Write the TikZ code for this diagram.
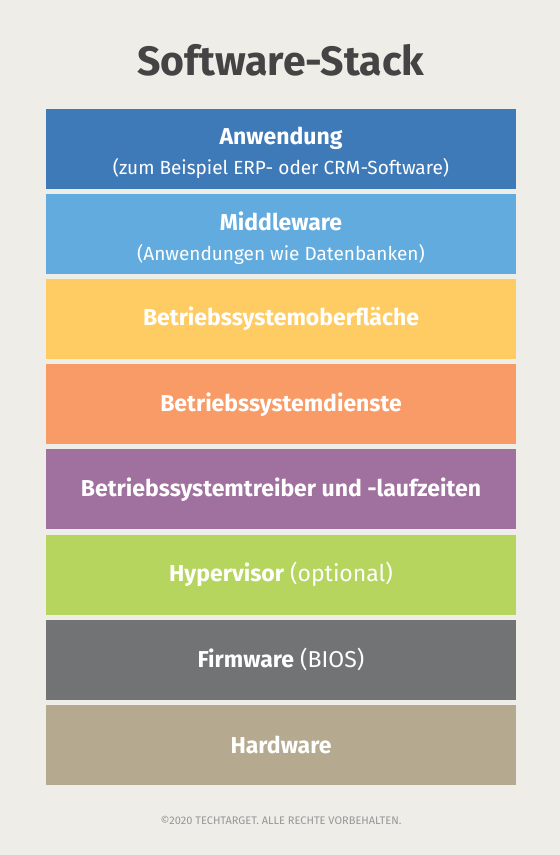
\documentclass[tikz,border=0pt]{standalone}
\usepackage{fontspec}
\setmainfont{Fira Sans}
\usepackage{xcolor}
\usepackage{tikz}
\usetikzlibrary{positioning}
\definecolor{bgcolor}{RGB}{238,237,232}
\definecolor{titlecolor}{RGB}{68,68,68}
\definecolor{notecolor}{RGB}{150,150,150}
\definecolor{appcolor}{RGB}{63,122,184}
\definecolor{midcolor}{RGB}{98,171,223}
\definecolor{uicolor}{RGB}{255,203,99}
\definecolor{svccolor}{RGB}{248,155,102}
\definecolor{drvcolor}{RGB}{160,112,159}
\definecolor{hypcolor}{RGB}{181,213,94}
\definecolor{fwcolor}{RGB}{114,115,117}
\definecolor{hwcolor}{RGB}{181,170,143}
\newcommand{\layerName}[1]{{\bfseries #1}}
\newcommand{\layerNote}[1]{{\fontsize{19}{30}\selectfont #1}}

\begin{document}
\begin{tikzpicture}[x=1pt, y=1pt,
			layer/.style={rectangle, minimum width=470pt, minimum height=80pt, inner sep=0pt, text=white, align=center, font=\fontsize{23}{30}\selectfont},
		]

		\fill[bgcolor] (0,0) rectangle (560,-855);

		\node[text=titlecolor, font=\fontsize{41}{44}\selectfont\bfseries] (title) at (281,-60) {Software-Stack};

		\node[layer, fill=appcolor] (app) at (281,-149) {\rule{0pt}{26pt}\layerName{Anwendung}\\\layerNote{(zum Beispiel ERP- oder CRM-Software)}};
		\node[layer, fill=midcolor] (mid)  [below=4.7pt of app]  {\rule{0pt}{26pt}\layerName{Middleware}\\\layerNote{(Anwendungen wie Datenbanken)}};
		\node[layer, fill=uicolor]  (ui)   [below=4.7pt of mid]  {\layerName{Betriebssystemoberfläche}};
		\node[layer, fill=svccolor] (svc)  [below=4.7pt of ui]   {\layerName{Betriebssystemdienste}};
		\node[layer, fill=drvcolor] (drv)  [below=4.7pt of svc]  {\layerName{Betriebssystemtreiber und -laufzeiten}};
		\node[layer, fill=hypcolor] (hyp)  [below=4.7pt of drv]  {\layerName{Hypervisor} (optional)};
		\node[layer, fill=fwcolor]  (fw)   [below=4.7pt of hyp]  {\layerName{Firmware} (BIOS)};
		\node[layer, fill=hwcolor]  (hw)   [below=4.7pt of fw]   {\layerName{Hardware}};

		\node[text=notecolor, font=\fontsize{11}{13}\selectfont] (note) at (281,-820) {©2020 TECHTARGET. ALLE RECHTE VORBEHALTEN.};

		\end{tikzpicture}
\end{document}
